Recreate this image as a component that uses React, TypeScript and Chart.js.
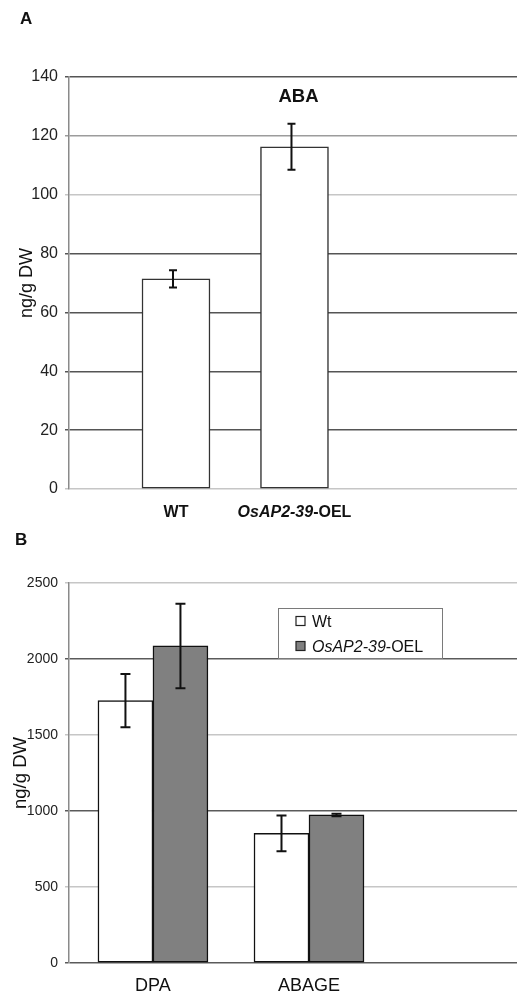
import React, { useEffect, useRef } from "react";
import { Chart, registerables } from "chart.js";

Chart.register(...registerables);

// ---------- DATA ----------
const GENE = "OsAP2-39";

// Panel A: ABA content
const abaCategories = ["WT", "OsAP2-39-OEL"];
const abaValues = [71.4, 116.3];
const abaErrors = [2.9, 7.8];
const abaYMin = 0;
const abaYMax = 140;
const abaYStep = 20;

// Panel B: DPA / ABAGE content
const metCategories = ["DPA", "ABAGE"];
const seriesNames = ["Wt", "OsAP2-39-OEL"];
const wtValues = [1726, 853];
const wtErrors = [175, 118];
const oelValues = [2086, 974];
const oelErrors = [278, 8];
const metYMin = 0;
const metYMax = 2500;
const metYStep = 500;

const yTitle = "ng/g DW";
const panelTitleA = "ABA";

// ---------- STYLE ----------
const FONT = "'Liberation Sans', Arial, Helvetica, sans-serif";
const INK = "#111";

// ---------- helpers ----------
type Part = { text: string; font: string };

function splitGene(label: string, baseFont: string, geneFont: string): Part[] {
  if (label.startsWith(GENE)) {
    return [
      { text: GENE, font: geneFont },
      { text: label.slice(GENE.length), font: baseFont },
    ];
  }
  return [{ text: label, font: baseFont }];
}

function drawParts(ctx: CanvasRenderingContext2D, parts: Part[], x: number, y: number, align: "center" | "left") {
  let total = 0;
  for (const p of parts) {
    ctx.font = p.font;
    total += ctx.measureText(p.text).width;
  }
  let cx = align === "center" ? x - total / 2 : x;
  ctx.textAlign = "left";
  ctx.textBaseline = "alphabetic";
  for (const p of parts) {
    ctx.font = p.font;
    ctx.fillText(p.text, cx, y);
    cx += ctx.measureText(p.text).width;
  }
}

const errorBarPlugin = {
  id: "errorBars",
  afterDatasetsDraw(chart: any, _args: any, opts: any) {
    const ctx = chart.ctx as CanvasRenderingContext2D;
    const yScale = chart.scales.y;
    chart.data.datasets.forEach((ds: any, di: number) => {
      const errs: number[] | undefined = ds.errors;
      if (!errs) return;
      const meta = chart.getDatasetMeta(di);
      meta.data.forEach((bar: any, i: number) => {
        const d = ds.data[i];
        const v = typeof d === "number" ? d : d.y;
        const top = yScale.getPixelForValue(v + errs[i]);
        const bot = yScale.getPixelForValue(v - errs[i]);
        const x = bar.x + (opts.shift || 0);
        const half = opts.cap / 2;
        ctx.save();
        ctx.strokeStyle = opts.color;
        ctx.lineWidth = opts.width;
        ctx.beginPath();
        ctx.moveTo(x, top);
        ctx.lineTo(x, bot);
        ctx.moveTo(x - half, top);
        ctx.lineTo(x + half, top);
        ctx.moveTo(x - half, bot);
        ctx.lineTo(x + half, bot);
        ctx.stroke();
        ctx.restore();
      });
    });
  },
};

const categoryLabelPlugin = {
  id: "catLabels",
  afterDraw(chart: any, _args: any, opts: any) {
    const ctx = chart.ctx as CanvasRenderingContext2D;
    const xScale = chart.scales.x;
    const base = chart.chartArea.bottom + opts.gap;
    ctx.save();
    ctx.fillStyle = INK;
    (opts.labels as string[]).forEach((label, i) => {
      const parts = splitGene(label, opts.font, opts.geneFont);
      drawParts(ctx, parts, xScale.getPixelForValue(i), base, "center");
    });
    ctx.restore();
  },
};

const textPlugin = {
  id: "freeText",
  afterDraw(chart: any, _args: any, opts: any) {
    const ctx = chart.ctx as CanvasRenderingContext2D;
    ctx.save();
    ctx.fillStyle = INK;
    for (const t of opts.items || []) {
      ctx.font = t.font;
      ctx.textAlign = t.align || "left";
      ctx.textBaseline = "alphabetic";
      ctx.fillText(t.text, t.x, t.y);
    }
    ctx.restore();
  },
};

const boxLegendPlugin = {
  id: "boxLegend",
  afterDraw(chart: any, _args: any, opts: any) {
    if (!opts || !opts.display) return;
    const ctx = chart.ctx as CanvasRenderingContext2D;
    ctx.save();
    ctx.fillStyle = "#fff";
    ctx.fillRect(opts.x, opts.y, opts.w, opts.h);
    ctx.strokeStyle = "#7a7a7a";
    ctx.lineWidth = 1;
    ctx.strokeRect(opts.x + 0.5, opts.y + 0.5, opts.w, opts.h);
    chart.data.datasets.forEach((ds: any, i: number) => {
      const cy = opts.y + opts.firstRow + i * opts.rowGap;
      const mx = opts.x + opts.markerX;
      const ms = opts.marker;
      ctx.fillStyle = ds.backgroundColor;
      ctx.fillRect(mx, cy - ms / 2, ms, ms);
      ctx.strokeStyle = "#222";
      ctx.lineWidth = 1.2;
      ctx.strokeRect(mx, cy - ms / 2, ms, ms);
      ctx.fillStyle = INK;
      const parts = splitGene(ds.label, opts.font, opts.geneFont);
      drawParts(ctx, parts, opts.x + opts.textX, cy + opts.baselineShift, "left");
    });
    ctx.restore();
  },
};

Chart.register(errorBarPlugin, categoryLabelPlugin, textPlugin, boxLegendPlugin);

const plainTick = (v: any) => String(v);

// ---------- chart configs ----------
function buildA(): any {
  const lightA: Record<number, string> = { 0: "#c6c6c6", 100: "#c6c6c6", 120: "#9c9c9c" };
  return {
    type: "bar",
    data: {
      datasets: [
        {
          label: "ABA",
          data: abaValues.map((v, i) => ({ x: i, y: v })),
          errors: abaErrors,
          backgroundColor: "#ffffff",
          borderColor: "#333333",
          borderWidth: 1.5,
          borderSkipped: false,
          barThickness: 68,
        },
      ],
    },
    options: {
      animation: false,
      responsive: false,
      devicePixelRatio: 1,
      layout: { padding: { left: 0, right: 0, top: 77, bottom: 36 } },
      scales: {
        x: { type: "linear", display: false, offset: false, min: -0.903, max: 2.878 },
        y: {
          min: abaYMin,
          max: abaYMax,
          ticks: { stepSize: abaYStep, color: "#222", font: { family: FONT, size: 16 }, padding: 7, callback: plainTick },
          grid: {
            color: (c: any) => (c.tick && lightA[c.tick.value] !== undefined ? lightA[c.tick.value] : "#555"),
            lineWidth: 1.5,
            tickLength: 4,
          },
          border: { color: "#8a8a8a", width: 1.5 },
          title: {
            display: true,
            text: yTitle,
            color: INK,
            font: { family: FONT, size: 18 },
            padding: { top: 16.5, bottom: 0 },
          },
          afterFit(s: any) {
            s.width = 69;
          },
        },
      },
      plugins: {
        legend: { display: false },
        tooltip: { enabled: false },
        errorBars: { color: "#111", width: 2, cap: 8, shift: -3 },
        catLabels: {
          labels: abaCategories,
          gap: 28,
          font: `bold 16px ${FONT}`,
          geneFont: `italic bold 16px ${FONT}`,
        },
        freeText: {
          items: [
            { text: "A", x: 20, y: 24, font: `bold 17px ${FONT}` },
            { text: panelTitleA, x: 298.5, y: 101.5, font: `bold 18.5px ${FONT}`, align: "center" },
          ],
        },
        boxLegend: { display: false },
      },
    },
  };
}

function buildB(): any {
  const lightB: Record<number, string> = { 500: "#c6c6c6", 1500: "#c6c6c6", 2500: "#c6c6c6" };
  return {
    type: "bar",
    data: {
      datasets: [
        {
          label: seriesNames[0],
          data: wtValues.map((v, i) => ({ x: i, y: v })),
          errors: wtErrors,
          backgroundColor: "#ffffff",
          borderColor: "#111111",
          borderWidth: 1.5,
          borderSkipped: false,
          barThickness: 55,
        },
        {
          label: seriesNames[1],
          data: oelValues.map((v, i) => ({ x: i, y: v })),
          errors: oelErrors,
          backgroundColor: "#808080",
          borderColor: "#111111",
          borderWidth: 1.5,
          borderSkipped: false,
          barThickness: 55,
        },
      ],
    },
    options: {
      animation: false,
      responsive: false,
      devicePixelRatio: 1,
      layout: { padding: { left: 0, right: 0, top: 83, bottom: 31 } },
      scales: {
        x: { type: "linear", display: false, offset: false, min: -0.538, max: 2.333 },
        y: {
          min: metYMin,
          max: metYMax,
          ticks: { stepSize: metYStep, color: "#222", font: { family: FONT, size: 14 }, padding: 7, callback: plainTick },
          grid: {
            color: (c: any) => (c.tick && lightB[c.tick.value] !== undefined ? lightB[c.tick.value] : "#5a5a5a"),
            lineWidth: 1.5,
            tickLength: 4,
          },
          border: { color: "#8a8a8a", width: 1.5 },
          title: {
            display: true,
            text: yTitle,
            color: INK,
            font: { family: FONT, size: 18.5 },
            padding: { top: 9.5, bottom: 0 },
          },
          afterFit(s: any) {
            s.width = 69;
          },
        },
      },
      plugins: {
        legend: { display: false },
        tooltip: { enabled: false },
        errorBars: { color: "#111", width: 2, cap: 10, shift: 0 },
        catLabels: {
          labels: metCategories,
          gap: 28,
          font: `18px ${FONT}`,
          geneFont: `italic 18px ${FONT}`,
        },
        freeText: {
          items: [{ text: "B", x: 15, y: 45, font: `bold 17px ${FONT}` }],
        },
        boxLegend: {
          display: true,
          x: 278,
          y: 108,
          w: 164,
          h: 50,
          firstRow: 13,
          rowGap: 25,
          markerX: 18,
          marker: 9,
          textX: 34,
          baselineShift: 6,
          font: `16px ${FONT}`,
          geneFont: `italic 16px ${FONT}`,
        },
      },
    },
  };
}

function ChartCanvas({ build, top, height }: { build: () => any; top: number; height: number }) {
  const ref = useRef<HTMLCanvasElement>(null);
  useEffect(() => {
    const chart = new Chart(ref.current as HTMLCanvasElement, build());
    return () => chart.destroy();
  }, [build]);
  return (
    <canvas
      ref={ref}
      width={517}
      height={height}
      style={{ position: "absolute", left: 0, top, width: 517, height, display: "block" }}
    />
  );
}

export default function App() {
  return (
    <div
      style={{
        position: "absolute",
        left: 0,
        top: 0,
        width: 517,
        height: 994,
        background: "#ffffff",
        overflow: "hidden",
      }}
    >
      <ChartCanvas build={buildA} top={0} height={525} />
      <ChartCanvas build={buildB} top={500} height={494} />
    </div>
  );
}
